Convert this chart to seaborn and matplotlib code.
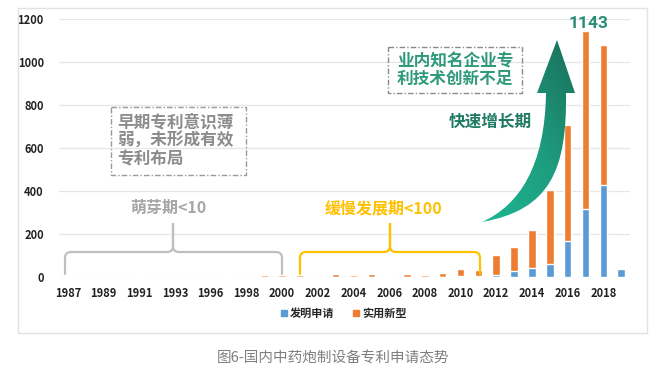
import numpy as np
import pandas as pd
import matplotlib
matplotlib.use("Agg")
import matplotlib.pyplot as plt
import seaborn as sns
from matplotlib.path import Path
from matplotlib.patches import PathPatch, Rectangle
from matplotlib.lines import Line2D
from matplotlib.colors import LinearSegmentedColormap

# data
years = [1987, 1988, 1989, 1990, 1991, 1992, 1993, 1995, 1996, 1997, 1998, 1999,
         2000, 2001, 2002, 2003, 2004, 2005, 2006, 2007, 2008, 2009, 2010, 2011,
         2012, 2013, 2014, 2015, 2016, 2017, 2018, 2019]
invention = [0, 0, 0, 0, 0, 0, 0, 0, 0, 0, 0, 0,
             0, 0, 0, 1, 0, 1, 0, 1, 1, 2, 5, 3,
             11, 26, 42, 62, 166, 316, 426, 35]
utility = [3, 0, 5, 4, 5, 0, 3, 5, 0, 4, 0, 7,
           8, 8, 6, 11, 7, 11, 6, 11, 9, 17, 30, 31,
           93, 112, 177, 343, 541, 827, 652, 0]
yticks = [0, 200, 400, 600, 800, 1000, 1200]

BLUE = "#5B9BD5"
ORANGE = "#ED7D31"
GREEN = "#1F7B63"
YELLOW = "#FFC000"

sns.set_theme(style="white")
plt.rcParams['font.family'] = ['Noto Sans CJK SC', 'DejaVu Sans']

df = pd.DataFrame({"year": [str(y) for y in years], "inv": invention, "util": utility})
df["total"] = df["inv"] + df["util"]

fig = plt.figure(figsize=(6.68, 3.81), dpi=100)
ax = fig.add_axes([0.0885, 0.2730, 0.8547, 0.6772])

sns.barplot(data=df, x="year", y="total", color=ORANGE, width=0.42, saturation=1, ax=ax)
sns.barplot(data=df, x="year", y="inv", color=BLUE, width=0.42, saturation=1, ax=ax)

ax.set_ylim(0, 1200)
ax.set_xlim(-0.5, len(years) - 0.5)
ax.set_yticks(yticks)
ax.set_yticklabels([str(v) for v in yticks], fontsize=8, fontweight="bold", color="#222222")
ax.set_xticks(range(0, len(years), 2))
ax.set_xticklabels(df["year"][::2], fontsize=8, fontweight="bold", color="#222222")
ax.tick_params(axis="both", length=0)
ax.tick_params(axis="y", pad=11)
ax.tick_params(axis="x", pad=7)
ax.set_xlabel("")
ax.set_ylabel("")
ax.yaxis.grid(True, color="#E6E6E6", lw=0.9)
ax.set_axisbelow(True)
sns.despine(ax=ax, left=True, bottom=True)

# peak value label
imax = int(df["total"].idxmax())
ax.text(imax + 0.15, df["total"].max() + 2, str(df["total"].max()), ha="center", va="bottom",
        fontsize=12.5, fontweight="bold", color="#2A8C74", family="Roboto")

# legend
handles = [Line2D([], [], ls="", marker="s", ms=4, color=BLUE),
           Line2D([], [], ls="", marker="s", ms=4, color=ORANGE)]
fig.legend(handles, ["发明申请", "实用新型"], loc="center", bbox_to_anchor=(343 / 668, 1 - 313 / 381),
           ncol=2, frameon=False, prop={"size": 8, "weight": "bold"}, handletextpad=0.1,
           columnspacing=1.6, handlelength=0.8)

# overlay in pixel coordinates for decorations
ov = fig.add_axes([0, 0, 1, 1])
ov.set_xlim(0, 668)
ov.set_ylim(381, 0)
ov.axis("off")

ov.add_patch(Rectangle((18, 8), 629, 325, fill=False, ec="#E2E2E2", lw=1))


def brace(x0, x1, xm, color):
    verts = [(x0, 274), (x0, 258), (x0, 252), (x0 + 6, 252), (xm - 6, 252), (xm, 252), (xm, 246),
             (xm, 223), (xm, 246), (xm, 252), (xm + 6, 252), (x1 - 6, 252), (x1, 252), (x1, 258),
             (x1, 274)]
    codes = [Path.MOVETO, Path.LINETO, Path.CURVE3, Path.CURVE3, Path.LINETO, Path.CURVE3, Path.CURVE3,
             Path.LINETO, Path.LINETO, Path.CURVE3, Path.CURVE3, Path.LINETO, Path.CURVE3, Path.CURVE3,
             Path.LINETO]
    ov.add_patch(PathPatch(Path(verts, codes), fill=False, ec=color, lw=1.6, capstyle="round"))


brace(65, 282, 173, "#BFBFBF")
brace(300, 480, 390, YELLOW)

ov.text(168, 208, "萌芽期<10", ha="center", va="center", fontsize=11.5, fontweight="bold", color="#A6A6A6")
ov.text(384, 208, "缓慢发展期<100", ha="center", va="center", fontsize=11.5, fontweight="bold", color=YELLOW)

# dashed boxes
ov.add_patch(Rectangle((111, 107), 135, 68, fill=False, ec="#9A9A9A", lw=1, ls=(0, (4, 1.5, 1, 1.5))))
ov.text(117, 141, "早期专利意识薄\n弱，未形成有效\n专利布局", ha="left", va="center", ma="left",
        fontsize=12, fontweight="bold", color="#8C8C8C", linespacing=1.05)
ov.add_patch(Rectangle((388, 47), 134, 46, fill=False, ec="#8A8A8A", lw=1, ls=(0, (4, 1.5, 1, 1.5))))
ov.text(455, 70, "业内知名企业专\n利技术创新不足", ha="center", va="center",
        fontsize=12, fontweight="bold", color="#2E9A7A", linespacing=1.0)

ov.text(490, 122, "快速增长期", ha="center", va="center", fontsize=12, fontweight="bold", color=GREEN)

# curved growth arrow with gradient
av = [(557, 40), (575, 93), (566, 93), (567, 170), (550, 210), (482, 222),
      (520, 205), (545, 165), (546, 93), (537, 93), (557, 40)]
ac = [Path.MOVETO, Path.LINETO, Path.LINETO, Path.CURVE4, Path.CURVE4, Path.CURVE4,
      Path.CURVE4, Path.CURVE4, Path.CURVE4, Path.LINETO, Path.CLOSEPOLY]
arrow = PathPatch(Path(av, ac), fc="none", ec="none")
ov.add_patch(arrow)
gx, gy = np.meshgrid(np.linspace(0, 1, 100), np.linspace(0, 1, 150))
grad = 0.45 * gx + 0.55 * (1 - gy)
cmap = LinearSegmentedColormap.from_list("g", ["#1DB893", "#1E9C7E", "#1A6B58"])
im = ov.imshow(grad, cmap=cmap, extent=(478, 580, 225, 38), origin="upper", aspect="auto",
               interpolation="bilinear")
im.set_clip_path(arrow)
ov.set_xlim(0, 668)
ov.set_ylim(381, 0)

# caption
fig.text(333 / 668, 1 - 358 / 381, "图6-国内中药炮制设备专利申请态势", ha="center", va="center",
         fontsize=10.5, color="#7F7F7F")

fig.savefig("out.png", dpi=100)
